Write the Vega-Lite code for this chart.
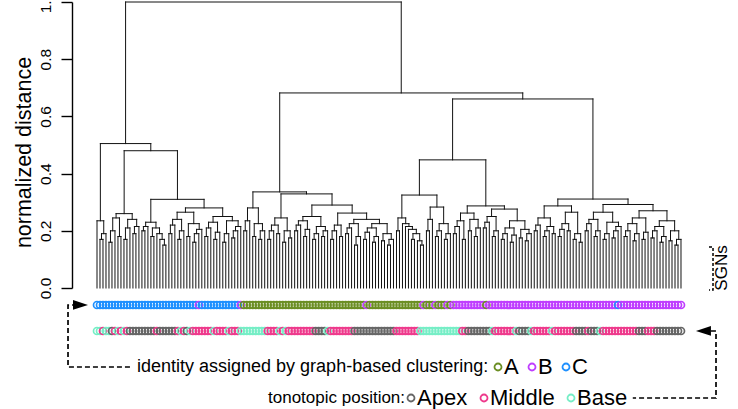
{
"$schema":"https://vega.github.io/schema/vega-lite/v6.json",
"width":640,"height":286,
"autosize":{"type":"none"},
"padding":{"left":72,"top":2,"right":26,"bottom":121},
"background":"white",
"config":{"view":{"stroke":null},"font":"Liberation Sans"},
"datasets":{
"nodes":[
{"l":2,"r":3,"h":0.17,"a":0,"b":0},
{"l":2.5,"r":4,"h":0.19,"a":0.17,"b":0},
{"l":1,"r":3.25,"h":0.235,"a":0,"b":0.19},
{"l":5,"r":6,"h":0.16,"a":0,"b":0},
{"l":5.5,"r":7,"h":0.2,"a":0.16,"b":0},
{"l":8,"r":9,"h":0.18,"a":0,"b":0},
{"l":6.25,"r":8.5,"h":0.245,"a":0.2,"b":0.18},
{"l":10,"r":11,"h":0.17,"a":0,"b":0},
{"l":10.5,"r":12,"h":0.21,"a":0.17,"b":0},
{"l":13,"r":14,"h":0.19,"a":0,"b":0},
{"l":13.5,"r":15,"h":0.215,"a":0.19,"b":0},
{"l":11.25,"r":14.25,"h":0.24,"a":0.21,"b":0.215},
{"l":7.375,"r":12.75,"h":0.26,"a":0.245,"b":0.24},
{"l":23,"r":24,"h":0.15,"a":0,"b":0},
{"l":22,"r":23.5,"h":0.17,"a":0,"b":0.15},
{"l":21,"r":22.75,"h":0.19,"a":0,"b":0.17},
{"l":19,"r":20,"h":0.18,"a":0,"b":0},
{"l":19.5,"r":21.875,"h":0.21,"a":0.18,"b":0.19},
{"l":16,"r":17,"h":0.2,"a":0,"b":0},
{"l":16.5,"r":18,"h":0.215,"a":0.2,"b":0},
{"l":17.25,"r":20.6875,"h":0.23,"a":0.215,"b":0.21},
{"l":25,"r":26,"h":0.19,"a":0,"b":0},
{"l":25.5,"r":27,"h":0.22,"a":0.19,"b":0},
{"l":28,"r":29,"h":0.17,"a":0,"b":0},
{"l":28.5,"r":30,"h":0.2,"a":0.17,"b":0},
{"l":26.25,"r":29.25,"h":0.24,"a":0.22,"b":0.2},
{"l":31,"r":32,"h":0.18,"a":0,"b":0},
{"l":33,"r":34,"h":0.16,"a":0,"b":0},
{"l":33.5,"r":35,"h":0.19,"a":0.16,"b":0},
{"l":34.25,"r":36,"h":0.205,"a":0.19,"b":0},
{"l":31.5,"r":35.125,"h":0.225,"a":0.18,"b":0.205},
{"l":27.75,"r":33.3125,"h":0.265,"a":0.24,"b":0.225},
{"l":37,"r":38,"h":0.18,"a":0,"b":0},
{"l":37.5,"r":39,"h":0.21,"a":0.18,"b":0},
{"l":40,"r":41,"h":0.17,"a":0,"b":0},
{"l":40.5,"r":42,"h":0.195,"a":0.17,"b":0},
{"l":38.25,"r":41.25,"h":0.23,"a":0.21,"b":0.195},
{"l":43,"r":44,"h":0.16,"a":0,"b":0},
{"l":43.5,"r":45,"h":0.19,"a":0.16,"b":0},
{"l":46,"r":47,"h":0.175,"a":0,"b":0},
{"l":46.5,"r":48,"h":0.2,"a":0.175,"b":0},
{"l":47.25,"r":49,"h":0.215,"a":0.2,"b":0},
{"l":44.25,"r":48.125,"h":0.235,"a":0.19,"b":0.215},
{"l":39.75,"r":46.1875,"h":0.25,"a":0.23,"b":0.235},
{"l":30.53125,"r":42.96875,"h":0.28,"a":0.265,"b":0.25},
{"l":18.96875,"r":36.75,"h":0.31,"a":0.23,"b":0.28},
{"l":10.0625,"r":27.859375,"h":0.48,"a":0.26,"b":0.31},
{"l":2.125,"r":18.9609375,"h":0.505,"a":0.235,"b":0.48},
{"l":50,"r":51,"h":0.2,"a":0,"b":0},
{"l":50.5,"r":52,"h":0.235,"a":0.2,"b":0},
{"l":53,"r":54,"h":0.18,"a":0,"b":0},
{"l":55,"r":56,"h":0.17,"a":0,"b":0},
{"l":55.5,"r":57,"h":0.2,"a":0.17,"b":0},
{"l":53.5,"r":56.25,"h":0.225,"a":0.18,"b":0.2},
{"l":51.25,"r":54.875,"h":0.28,"a":0.235,"b":0.225},
{"l":58,"r":59,"h":0.17,"a":0,"b":0},
{"l":58.5,"r":60,"h":0.2,"a":0.17,"b":0},
{"l":61,"r":62,"h":0.19,"a":0,"b":0},
{"l":59.25,"r":61.5,"h":0.22,"a":0.2,"b":0.19},
{"l":63,"r":64,"h":0.16,"a":0,"b":0},
{"l":65,"r":66,"h":0.175,"a":0,"b":0},
{"l":63.5,"r":65.5,"h":0.2,"a":0.16,"b":0.175},
{"l":60.375,"r":64.5,"h":0.245,"a":0.22,"b":0.2},
{"l":67,"r":68,"h":0.2,"a":0,"b":0},
{"l":67.5,"r":69,"h":0.22,"a":0.2,"b":0},
{"l":70,"r":71,"h":0.18,"a":0,"b":0},
{"l":70.5,"r":72,"h":0.205,"a":0.18,"b":0},
{"l":68.25,"r":71.25,"h":0.235,"a":0.22,"b":0.205},
{"l":73,"r":74,"h":0.17,"a":0,"b":0},
{"l":73.5,"r":75,"h":0.19,"a":0.17,"b":0},
{"l":76,"r":77,"h":0.18,"a":0,"b":0},
{"l":76.5,"r":78,"h":0.2,"a":0.18,"b":0},
{"l":74.25,"r":77.25,"h":0.215,"a":0.19,"b":0.2},
{"l":69.75,"r":75.75,"h":0.25,"a":0.235,"b":0.215},
{"l":79,"r":80,"h":0.17,"a":0,"b":0},
{"l":79.5,"r":81,"h":0.2,"a":0.17,"b":0},
{"l":82,"r":83,"h":0.18,"a":0,"b":0},
{"l":80.25,"r":82.5,"h":0.22,"a":0.2,"b":0.18},
{"l":84,"r":85,"h":0.19,"a":0,"b":0},
{"l":84.5,"r":86,"h":0.21,"a":0.19,"b":0},
{"l":87,"r":88,"h":0.15,"a":0,"b":0},
{"l":87.5,"r":89,"h":0.18,"a":0.15,"b":0},
{"l":85.25,"r":88.25,"h":0.225,"a":0.21,"b":0.18},
{"l":90,"r":91,"h":0.17,"a":0,"b":0},
{"l":90.5,"r":92,"h":0.195,"a":0.17,"b":0},
{"l":93,"r":94,"h":0.16,"a":0,"b":0},
{"l":93.5,"r":95,"h":0.18,"a":0.16,"b":0},
{"l":91.25,"r":94.25,"h":0.21,"a":0.195,"b":0.18},
{"l":96,"r":97,"h":0.165,"a":0,"b":0},
{"l":98,"r":99,"h":0.15,"a":0,"b":0},
{"l":98.5,"r":100,"h":0.17,"a":0.15,"b":0},
{"l":96.5,"r":99.25,"h":0.19,"a":0.165,"b":0.17},
{"l":92.75,"r":97.875,"h":0.225,"a":0.21,"b":0.19},
{"l":86.75,"r":95.3125,"h":0.24,"a":0.225,"b":0.225},
{"l":81.375,"r":91.03125,"h":0.262,"a":0.22,"b":0.24},
{"l":72.75,"r":86.203125,"h":0.29,"a":0.25,"b":0.262},
{"l":62.4375,"r":79.4765625,"h":0.329,"a":0.245,"b":0.29},
{"l":53.0625,"r":70.95703125,"h":0.336,"a":0.28,"b":0.329},
{"l":109,"r":110,"h":0.15,"a":0,"b":0},
{"l":108,"r":109.5,"h":0.165,"a":0,"b":0.15},
{"l":106,"r":107,"h":0.17,"a":0,"b":0},
{"l":106.5,"r":108.75,"h":0.19,"a":0.17,"b":0.165},
{"l":105,"r":107.625,"h":0.205,"a":0,"b":0.19},
{"l":104,"r":106.3125,"h":0.215,"a":0,"b":0.205},
{"l":103,"r":105.15625,"h":0.225,"a":0,"b":0.215},
{"l":101,"r":102,"h":0.2,"a":0,"b":0},
{"l":101.5,"r":104.078125,"h":0.245,"a":0.2,"b":0.225},
{"l":111,"r":112,"h":0.2,"a":0,"b":0},
{"l":111.5,"r":113,"h":0.24,"a":0.2,"b":0},
{"l":114,"r":115,"h":0.18,"a":0,"b":0},
{"l":114.5,"r":116,"h":0.2,"a":0.18,"b":0},
{"l":117,"r":118,"h":0.17,"a":0,"b":0},
{"l":117.5,"r":119,"h":0.19,"a":0.17,"b":0},
{"l":115.25,"r":118.25,"h":0.225,"a":0.2,"b":0.19},
{"l":112.25,"r":116.75,"h":0.283,"a":0.24,"b":0.225},
{"l":102.7890625,"r":114.5,"h":0.325,"a":0.245,"b":0.283},
{"l":120,"r":121,"h":0.19,"a":0,"b":0},
{"l":120.5,"r":122,"h":0.215,"a":0.19,"b":0},
{"l":123,"r":124,"h":0.17,"a":0,"b":0},
{"l":121.25,"r":123.5,"h":0.235,"a":0.215,"b":0.17},
{"l":125,"r":126,"h":0.2,"a":0,"b":0},
{"l":127,"r":128,"h":0.18,"a":0,"b":0},
{"l":127.5,"r":129,"h":0.21,"a":0.18,"b":0},
{"l":125.5,"r":128.25,"h":0.24,"a":0.2,"b":0.21},
{"l":122.375,"r":126.875,"h":0.262,"a":0.235,"b":0.24},
{"l":130,"r":131,"h":0.21,"a":0,"b":0},
{"l":130.5,"r":132,"h":0.23,"a":0.21,"b":0},
{"l":133,"r":134,"h":0.18,"a":0,"b":0},
{"l":133.5,"r":135,"h":0.2,"a":0.18,"b":0},
{"l":131.25,"r":134.25,"h":0.25,"a":0.23,"b":0.2},
{"l":136,"r":137,"h":0.17,"a":0,"b":0},
{"l":136.5,"r":138,"h":0.19,"a":0.17,"b":0},
{"l":139,"r":140,"h":0.16,"a":0,"b":0},
{"l":139.5,"r":141,"h":0.185,"a":0.16,"b":0},
{"l":137.25,"r":140.25,"h":0.21,"a":0.19,"b":0.185},
{"l":142,"r":143,"h":0.175,"a":0,"b":0},
{"l":144,"r":145,"h":0.165,"a":0,"b":0},
{"l":144.5,"r":146,"h":0.19,"a":0.165,"b":0},
{"l":142.5,"r":145.25,"h":0.205,"a":0.175,"b":0.19},
{"l":138.75,"r":143.875,"h":0.235,"a":0.21,"b":0.205},
{"l":132.75,"r":141.3125,"h":0.276,"a":0.25,"b":0.235},
{"l":124.625,"r":137.03125,"h":0.287,"a":0.262,"b":0.276},
{"l":108.64453125,"r":130.828125,"h":0.448,"a":0.325,"b":0.287},
{"l":147,"r":148,"h":0.2,"a":0,"b":0},
{"l":147.5,"r":149,"h":0.22,"a":0.2,"b":0},
{"l":150,"r":151,"h":0.18,"a":0,"b":0},
{"l":150.5,"r":152,"h":0.2,"a":0.18,"b":0},
{"l":153,"r":154,"h":0.19,"a":0,"b":0},
{"l":151.25,"r":153.5,"h":0.215,"a":0.2,"b":0.19},
{"l":148.25,"r":152.375,"h":0.245,"a":0.22,"b":0.215},
{"l":155,"r":156,"h":0.18,"a":0,"b":0},
{"l":155.5,"r":157,"h":0.205,"a":0.18,"b":0},
{"l":158,"r":159,"h":0.2,"a":0,"b":0},
{"l":156.25,"r":158.5,"h":0.225,"a":0.205,"b":0.2},
{"l":160,"r":161,"h":0.17,"a":0,"b":0},
{"l":162,"r":163,"h":0.16,"a":0,"b":0},
{"l":160.5,"r":162.5,"h":0.19,"a":0.17,"b":0.16},
{"l":157.375,"r":161.5,"h":0.265,"a":0.225,"b":0.19},
{"l":150.3125,"r":159.4375,"h":0.287,"a":0.245,"b":0.265},
{"l":164,"r":165,"h":0.2,"a":0,"b":0},
{"l":164.5,"r":166,"h":0.225,"a":0.2,"b":0},
{"l":167,"r":168,"h":0.18,"a":0,"b":0},
{"l":167.5,"r":169,"h":0.2,"a":0.18,"b":0},
{"l":165.25,"r":168.25,"h":0.24,"a":0.225,"b":0.2},
{"l":170,"r":171,"h":0.17,"a":0,"b":0},
{"l":170.5,"r":172,"h":0.19,"a":0.17,"b":0},
{"l":173,"r":174,"h":0.175,"a":0,"b":0},
{"l":173.5,"r":175,"h":0.2,"a":0.175,"b":0},
{"l":174.25,"r":176,"h":0.215,"a":0.2,"b":0},
{"l":171.25,"r":175.125,"h":0.23,"a":0.19,"b":0.215},
{"l":166.75,"r":173.1875,"h":0.265,"a":0.24,"b":0.23},
{"l":177,"r":178,"h":0.18,"a":0,"b":0},
{"l":177.5,"r":179,"h":0.2,"a":0.18,"b":0},
{"l":180,"r":181,"h":0.165,"a":0,"b":0},
{"l":180.5,"r":182,"h":0.19,"a":0.165,"b":0},
{"l":178.25,"r":181.25,"h":0.225,"a":0.2,"b":0.19},
{"l":183,"r":184,"h":0.17,"a":0,"b":0},
{"l":183.5,"r":185,"h":0.195,"a":0.17,"b":0},
{"l":179.75,"r":184.25,"h":0.245,"a":0.225,"b":0.195},
{"l":186,"r":187,"h":0.175,"a":0,"b":0},
{"l":186.5,"r":188,"h":0.2,"a":0.175,"b":0},
{"l":189,"r":190,"h":0.16,"a":0,"b":0},
{"l":189.5,"r":191,"h":0.18,"a":0.16,"b":0},
{"l":187.25,"r":190.25,"h":0.215,"a":0.2,"b":0.18},
{"l":192,"r":193,"h":0.165,"a":0,"b":0},
{"l":194,"r":195,"h":0.15,"a":0,"b":0},
{"l":194.5,"r":196,"h":0.17,"a":0.15,"b":0},
{"l":192.5,"r":195.25,"h":0.2,"a":0.165,"b":0.17},
{"l":188.75,"r":193.875,"h":0.235,"a":0.215,"b":0.2},
{"l":182,"r":191.3125,"h":0.27,"a":0.245,"b":0.235},
{"l":169.96875,"r":186.65625,"h":0.292,"a":0.265,"b":0.27},
{"l":154.875,"r":178.3125,"h":0.311,"a":0.287,"b":0.292},
{"l":119.736328125,"r":166.59375,"h":0.661,"a":0.448,"b":0.311},
{"l":62.009765625,"r":143.1650390625,"h":0.682,"a":0.336,"b":0.661},
{"l":10.54296875,"r":102.58740234375,"h":1,"a":0.505,"b":0.682}
],
"leaves":[
{"i":1,"c":"C","t":"Base"},{"i":2,"c":"C","t":"Base"},{"i":3,"c":"C","t":"Middle"},{"i":4,"c":"C","t":"Base"},{"i":5,"c":"C","t":"Base"},
{"i":6,"c":"C","t":"Apex"},{"i":7,"c":"C","t":"Middle"},{"i":8,"c":"C","t":"Base"},{"i":9,"c":"C","t":"Middle"},{"i":10,"c":"C","t":"Base"},
{"i":11,"c":"C","t":"Middle"},{"i":12,"c":"C","t":"Apex"},{"i":13,"c":"C","t":"Apex"},{"i":14,"c":"C","t":"Apex"},{"i":15,"c":"C","t":"Apex"},
{"i":16,"c":"C","t":"Apex"},{"i":17,"c":"C","t":"Apex"},{"i":18,"c":"C","t":"Apex"},{"i":19,"c":"C","t":"Apex"},{"i":20,"c":"C","t":"Apex"},
{"i":21,"c":"C","t":"Middle"},{"i":22,"c":"C","t":"Apex"},{"i":23,"c":"C","t":"Apex"},{"i":24,"c":"C","t":"Apex"},{"i":25,"c":"C","t":"Apex"},
{"i":26,"c":"C","t":"Apex"},{"i":27,"c":"C","t":"Apex"},{"i":28,"c":"C","t":"Middle"},{"i":29,"c":"C","t":"Base"},{"i":30,"c":"C","t":"Middle"},
{"i":31,"c":"C","t":"Apex"},{"i":32,"c":"C","t":"Base"},{"i":33,"c":"C","t":"Middle"},{"i":34,"c":"C","t":"Middle"},{"i":35,"c":"B","t":"Middle"},
{"i":36,"c":"C","t":"Middle"},{"i":37,"c":"C","t":"Middle"},{"i":38,"c":"C","t":"Middle"},{"i":39,"c":"C","t":"Middle"},{"i":40,"c":"C","t":"Base"},
{"i":41,"c":"C","t":"Middle"},{"i":42,"c":"C","t":"Middle"},{"i":43,"c":"C","t":"Middle"},{"i":44,"c":"C","t":"Middle"},{"i":45,"c":"C","t":"Base"},
{"i":46,"c":"C","t":"Middle"},{"i":47,"c":"C","t":"Middle"},{"i":48,"c":"C","t":"Middle"},{"i":49,"c":"B","t":"Base"},{"i":50,"c":"A","t":"Base"},
{"i":51,"c":"A","t":"Base"},{"i":52,"c":"A","t":"Base"},{"i":53,"c":"A","t":"Base"},{"i":54,"c":"A","t":"Base"},{"i":55,"c":"A","t":"Base"},
{"i":56,"c":"A","t":"Base"},{"i":57,"c":"A","t":"Base"},{"i":58,"c":"A","t":"Middle"},{"i":59,"c":"A","t":"Middle"},{"i":60,"c":"A","t":"Middle"},
{"i":61,"c":"A","t":"Middle"},{"i":62,"c":"A","t":"Base"},{"i":63,"c":"A","t":"Middle"},{"i":64,"c":"A","t":"Base"},{"i":65,"c":"A","t":"Middle"},
{"i":66,"c":"A","t":"Middle"},{"i":67,"c":"A","t":"Middle"},{"i":68,"c":"A","t":"Middle"},{"i":69,"c":"A","t":"Middle"},{"i":70,"c":"A","t":"Middle"},
{"i":71,"c":"A","t":"Middle"},{"i":72,"c":"A","t":"Middle"},{"i":73,"c":"A","t":"Middle"},{"i":74,"c":"A","t":"Apex"},{"i":75,"c":"A","t":"Apex"},
{"i":76,"c":"A","t":"Apex"},{"i":77,"c":"A","t":"Apex"},{"i":78,"c":"A","t":"Base"},{"i":79,"c":"A","t":"Middle"},{"i":80,"c":"A","t":"Middle"},
{"i":81,"c":"A","t":"Middle"},{"i":82,"c":"A","t":"Middle"},{"i":83,"c":"A","t":"Middle"},{"i":84,"c":"A","t":"Middle"},{"i":85,"c":"A","t":"Middle"},
{"i":86,"c":"A","t":"Middle"},{"i":87,"c":"A","t":"Apex"},{"i":88,"c":"A","t":"Apex"},{"i":89,"c":"A","t":"Apex"},{"i":90,"c":"A","t":"Apex"},
{"i":91,"c":"B","t":"Apex"},{"i":92,"c":"A","t":"Apex"},{"i":93,"c":"A","t":"Apex"},{"i":94,"c":"A","t":"Apex"},{"i":95,"c":"A","t":"Apex"},
{"i":96,"c":"A","t":"Apex"},{"i":97,"c":"A","t":"Apex"},{"i":98,"c":"A","t":"Apex"},{"i":99,"c":"A","t":"Apex"},{"i":100,"c":"A","t":"Apex"},
{"i":101,"c":"A","t":"Middle"},{"i":102,"c":"A","t":"Middle"},{"i":103,"c":"A","t":"Middle"},{"i":104,"c":"A","t":"Middle"},{"i":105,"c":"A","t":"Middle"},
{"i":106,"c":"A","t":"Middle"},{"i":107,"c":"A","t":"Middle"},{"i":108,"c":"A","t":"Middle"},{"i":109,"c":"A","t":"Base"},{"i":110,"c":"B","t":"Base"},
{"i":111,"c":"A","t":"Base"},{"i":112,"c":"A","t":"Base"},{"i":113,"c":"A","t":"Base"},{"i":114,"c":"B","t":"Base"},{"i":115,"c":"A","t":"Base"},
{"i":116,"c":"A","t":"Base"},{"i":117,"c":"A","t":"Base"},{"i":118,"c":"B","t":"Base"},{"i":119,"c":"A","t":"Base"},{"i":120,"c":"B","t":"Base"},
{"i":121,"c":"B","t":"Base"},{"i":122,"c":"B","t":"Base"},{"i":123,"c":"B","t":"Middle"},{"i":124,"c":"B","t":"Middle"},{"i":125,"c":"B","t":"Apex"},
{"i":126,"c":"B","t":"Apex"},{"i":127,"c":"B","t":"Apex"},{"i":128,"c":"B","t":"Apex"},{"i":129,"c":"B","t":"Apex"},{"i":130,"c":"B","t":"Apex"},
{"i":131,"c":"A","t":"Apex"},{"i":132,"c":"B","t":"Apex"},{"i":133,"c":"B","t":"Base"},{"i":134,"c":"B","t":"Middle"},{"i":135,"c":"B","t":"Middle"},
{"i":136,"c":"B","t":"Middle"},{"i":137,"c":"B","t":"Middle"},{"i":138,"c":"B","t":"Middle"},{"i":139,"c":"B","t":"Middle"},{"i":140,"c":"B","t":"Middle"},
{"i":141,"c":"B","t":"Base"},{"i":142,"c":"B","t":"Apex"},{"i":143,"c":"B","t":"Apex"},{"i":144,"c":"B","t":"Apex"},{"i":145,"c":"B","t":"Apex"},
{"i":146,"c":"B","t":"Base"},{"i":147,"c":"B","t":"Middle"},{"i":148,"c":"B","t":"Middle"},{"i":149,"c":"B","t":"Middle"},{"i":150,"c":"B","t":"Middle"},
{"i":151,"c":"B","t":"Middle"},{"i":152,"c":"B","t":"Middle"},{"i":153,"c":"B","t":"Base"},{"i":154,"c":"B","t":"Middle"},{"i":155,"c":"B","t":"Middle"},
{"i":156,"c":"B","t":"Middle"},{"i":157,"c":"B","t":"Middle"},{"i":158,"c":"B","t":"Middle"},{"i":159,"c":"B","t":"Middle"},{"i":160,"c":"B","t":"Middle"},
{"i":161,"c":"B","t":"Apex"},{"i":162,"c":"B","t":"Apex"},{"i":163,"c":"B","t":"Apex"},{"i":164,"c":"B","t":"Apex"},{"i":165,"c":"B","t":"Middle"},
{"i":166,"c":"B","t":"Apex"},{"i":167,"c":"B","t":"Apex"},{"i":168,"c":"B","t":"Apex"},{"i":169,"c":"B","t":"Base"},{"i":170,"c":"B","t":"Middle"},
{"i":171,"c":"B","t":"Middle"},{"i":172,"c":"B","t":"Middle"},{"i":173,"c":"B","t":"Middle"},{"i":174,"c":"B","t":"Middle"},{"i":175,"c":"C","t":"Middle"},
{"i":176,"c":"B","t":"Middle"},{"i":177,"c":"B","t":"Middle"},{"i":178,"c":"B","t":"Middle"},{"i":179,"c":"B","t":"Middle"},{"i":180,"c":"B","t":"Middle"},
{"i":181,"c":"B","t":"Middle"},{"i":182,"c":"B","t":"Apex"},{"i":183,"c":"B","t":"Apex"},{"i":184,"c":"B","t":"Apex"},{"i":185,"c":"B","t":"Middle"},
{"i":186,"c":"B","t":"Middle"},{"i":187,"c":"B","t":"Middle"},{"i":188,"c":"B","t":"Apex"},{"i":189,"c":"B","t":"Apex"},{"i":190,"c":"B","t":"Apex"},
{"i":191,"c":"B","t":"Apex"},{"i":192,"c":"B","t":"Apex"},{"i":193,"c":"B","t":"Apex"},{"i":194,"c":"B","t":"Apex"},{"i":195,"c":"B","t":"Apex"},
{"i":196,"c":"B","t":"Apex"}
]
},
"layer":[
{"data":{"name":"nodes"},
 "mark":{"type":"rule","color":"#111","strokeWidth":1,"strokeCap":"square"},
 "encoding":{
  "x":{"field":"l","type":"quantitative","scale":{"domain":[-7.348,206.352],"nice":false,"zero":false},"axis":null},
  "x2":{"field":"r"},
  "y":{"field":"h","type":"quantitative","scale":{"domain":[0,1],"nice":false,"zero":false},
   "axis":{"values":[0,0.2,0.4,0.6,0.8,1],"format":".1f","title":"normalized distance","grid":false,
    "domainColor":"#000","domainWidth":1.4,"tickColor":"#000","tickWidth":1.4,"tickSize":11,
    "labelAngle":270,"labelAlign":"center","labelBaseline":"alphabetic","labelPadding":11,
    "labelFont":"Liberation Sans","labelFontSize":15.5,"labelColor":"#000","labelFlush":false,"labelOverlap":false,
    "titleFont":"Liberation Sans","titleFontSize":21.5,"titleFontWeight":"normal","titleColor":"#000",
    "titleAngle":270,"titleAlign":"center","titleBaseline":"alphabetic","titleX":-42,"titleY":150}}
 }},
{"data":{"name":"nodes"},
 "mark":{"type":"rule","color":"#111","strokeWidth":1,"strokeCap":"square"},
 "encoding":{
  "x":{"field":"l","type":"quantitative","scale":{"domain":[-7.348,206.352],"nice":false,"zero":false}},
  "y":{"field":"a","type":"quantitative","scale":{"domain":[0,1],"nice":false,"zero":false}},
  "y2":{"field":"h"}
 }},
{"data":{"name":"nodes"},
 "mark":{"type":"rule","color":"#111","strokeWidth":1,"strokeCap":"square"},
 "encoding":{
  "x":{"field":"r","type":"quantitative","scale":{"domain":[-7.348,206.352],"nice":false,"zero":false}},
  "y":{"field":"b","type":"quantitative","scale":{"domain":[0,1],"nice":false,"zero":false}},
  "y2":{"field":"h"}
 }},
{"data":{"name":"leaves"},
 "mark":{"type":"point","shape":"circle","filled":false,"size":49,"strokeWidth":1.7,"opacity":1},
 "encoding":{
  "x":{"field":"i","type":"quantitative","scale":{"domain":[-7.348,206.352],"nice":false,"zero":false}},
  "y":{"datum":-0.0594,"type":"quantitative","scale":{"domain":[0,1],"nice":false,"zero":false}},
  "stroke":{"field":"c","type":"nominal","scale":{"domain":["A","B","C"],"range":["#6B8E23","#BF3EFF","#1E90FF"]},
   "legend":{"orient":"none","legendX":65,"legendY":354,"direction":"horizontal","titleOrient":"left",
    "title":"identity assigned by graph-based clustering:","titleFont":"Liberation Sans","titleFontSize":18,"titleFontWeight":"normal","titleColor":"#000","titlePadding":-2,"titleLimit":1000,
    "labelFont":"Liberation Sans","labelFontSize":22,"labelColor":"#000","labelOffset":-5,"columnPadding":2,"labelLimit":1000,
    "symbolSize":49,"symbolStrokeWidth":1.8,"symbolType":"circle"}}
 }},
{"data":{"name":"leaves"},
 "mark":{"type":"point","shape":"circle","filled":false,"size":49,"strokeWidth":1.7,"opacity":1},
 "encoding":{
  "x":{"field":"i","type":"quantitative","scale":{"domain":[-7.348,206.352],"nice":false,"zero":false}},
  "y":{"datum":-0.1503,"type":"quantitative","scale":{"domain":[0,1],"nice":false,"zero":false}},
  "color":{"field":"t","type":"nominal","scale":{"domain":["Apex","Middle","Base"],"range":["#666666","#EE3A8C","#76EEC6"]},
   "legend":{"orient":"none","legendX":196,"legendY":385,"direction":"horizontal","titleOrient":"left",
    "title":"tonotopic position:","titleFont":"Liberation Sans","titleFontSize":17,"titleFontWeight":"normal","titleColor":"#000","titlePadding":-6,"titleLimit":1000,
    "labelFont":"Liberation Sans","labelFontSize":22,"labelColor":"#000","labelOffset":-5,"columnPadding":5,"labelLimit":1000,
    "symbolSize":49,"symbolStrokeWidth":1.8,"symbolType":"circle"}}
 }},
{"data":{"values":[{"x":12.0,"y":-0.2762,"o":1},{"x":-8.68,"y":-0.2762,"o":2},{"x":-8.68,"y":-0.0594,"o":3},{"x":-6.5,"y":-0.0594,"o":4}]},
 "mark":{"type":"line","color":"#000","strokeWidth":1.7,"strokeDash":[5,3]},
 "encoding":{
  "x":{"field":"x","type":"quantitative","scale":{"domain":[-7.348,206.352],"nice":false,"zero":false}},
  "y":{"field":"y","type":"quantitative","scale":{"domain":[0,1],"nice":false,"zero":false}},
  "order":{"field":"o"}
 }},
{"data":{"values":[{"x":206.0,"y":-0.1503,"o":1},{"x":207.69,"y":-0.1503,"o":2},{"x":207.69,"y":-0.3846,"o":3},{"x":179.9,"y":-0.3846,"o":4}]},
 "mark":{"type":"line","color":"#000","strokeWidth":1.7,"strokeDash":[5,3]},
 "encoding":{
  "x":{"field":"x","type":"quantitative","scale":{"domain":[-7.348,206.352],"nice":false,"zero":false}},
  "y":{"field":"y","type":"quantitative","scale":{"domain":[0,1],"nice":false,"zero":false}},
  "order":{"field":"o"}
 }},
{"data":{"values":[{"x":205.35,"y":0.1434,"o":1},{"x":206.69,"y":0.1434,"o":2},{"x":206.69,"y":-0.007,"o":3},{"x":205.35,"y":-0.007,"o":4}]},
 "mark":{"type":"line","color":"#000","strokeWidth":1.5,"strokeDash":[3,2]},
 "encoding":{
  "x":{"field":"x","type":"quantitative","scale":{"domain":[-7.348,206.352],"nice":false,"zero":false}},
  "y":{"field":"y","type":"quantitative","scale":{"domain":[0,1],"nice":false,"zero":false}},
  "order":{"field":"o"}
 }},
{"data":{"values":[{"x":-4.51,"y":-0.0594,"s":"M-1,-0.65L1,0L-1,0.65Z"},{"x":203.5,"y":-0.1503,"s":"M1,-0.65L-1,0L1,0.65Z"}]},
 "mark":{"type":"point","filled":true,"color":"#000","size":225,"opacity":1,"strokeWidth":0},
 "encoding":{
  "x":{"field":"x","type":"quantitative","scale":{"domain":[-7.348,206.352],"nice":false,"zero":false}},
  "y":{"field":"y","type":"quantitative","scale":{"domain":[0,1],"nice":false,"zero":false}},
  "shape":{"field":"s","type":"nominal","scale":null}
 }},
{"data":{"values":[{"label":"SGNs"}]},
 "mark":{"type":"text","angle":270,"align":"center","baseline":"middle","font":"Liberation Sans","fontSize":17,"color":"#000"},
 "encoding":{
  "x":{"datum":209.8,"type":"quantitative","scale":{"domain":[-7.348,206.352],"nice":false,"zero":false}},
  "y":{"datum":0.07,"type":"quantitative","scale":{"domain":[0,1],"nice":false,"zero":false}},
  "text":{"field":"label"}
 }}
]
}
